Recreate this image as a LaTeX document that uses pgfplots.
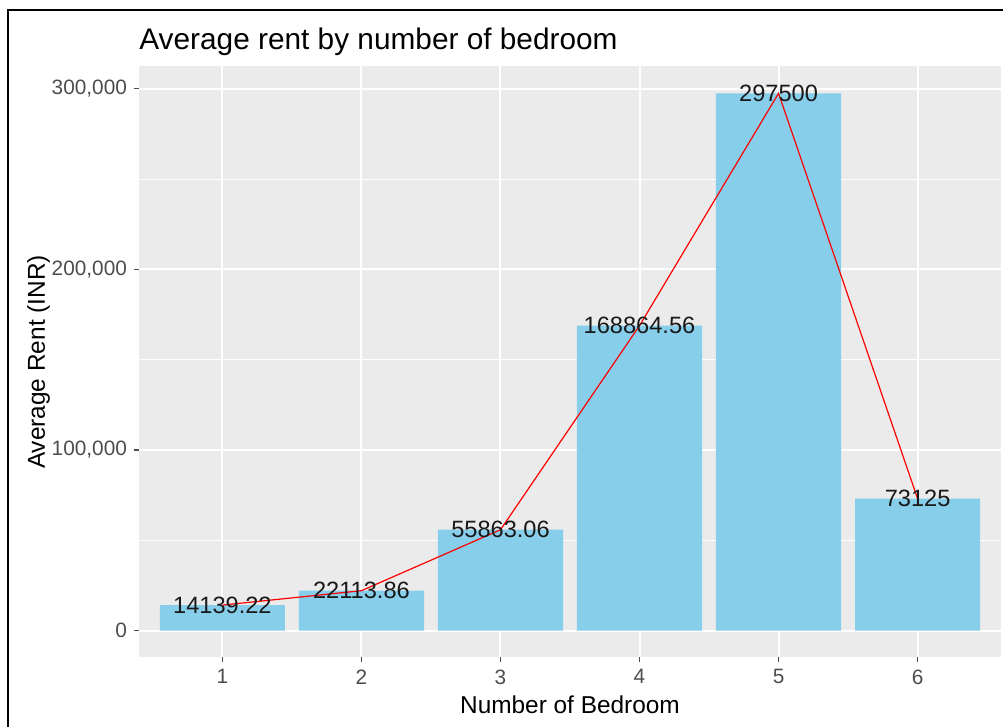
\documentclass[border=0pt]{standalone}
\usepackage{pgfplots}
\pgfplotsset{compat=1.18}
\usepackage{fontspec}
\setmainfont{Liberation Sans}
\definecolor{panel}{HTML}{EBEBEB}
\definecolor{barblue}{HTML}{87CEEB}
\definecolor{tickgray}{HTML}{4D4D4D}
\begin{document}
\begin{tikzpicture}
\fill[white] (-69.5pt,-34.75pt) rectangle (432pt,328.75pt);
\useasboundingbox (-69.5pt,-34.75pt) rectangle (432pt,328.75pt);
\draw[black, line width=1.2pt] (-65.5pt,-40pt) -- (-65.5pt,323.75pt) -- (440pt,323.75pt);
\begin{axis}[
  scale only axis, width=431pt, height=295.5pt,
  at={(0pt,0pt)}, anchor=south west,
  xmin=0.4, xmax=6.6, ymin=-14875, ymax=312375,
  axis background/.style={fill=panel},
  axis line style={draw=none},
  xtick={1,2,3,4,5,6},
  ytick={0,100000,200000,300000},
  minor ytick={50000,150000,250000},
  grid=both,
  major grid style={white, line width=1pt},
  minor grid style={white, line width=0.5pt},
  tick style={tickgray, line width=0.6pt},
  major tick length=2.5pt,
  minor tick length=0pt,
  tick align=outside, xtick pos=bottom, ytick pos=left,
  ticklabel style={font=\fontsize{10.4}{12}\selectfont, text=tickgray},
  scaled y ticks=false,
  yticklabel style={/pgf/number format/.cd, fixed, 1000 sep={,}, assume math mode=true},
  xticklabel style={/pgf/number format/assume math mode=true},
]
\addplot[ybar, bar width=0.9, bar shift=0pt, fill=barblue, draw=none] coordinates {
  (1,14139.22) (2,22113.86) (3,55863.06) (4,168864.56) (5,297500) (6,73125)
};
\addplot[red, line width=0.6pt, mark=none] coordinates {
  (1,14139.22) (2,22113.86) (3,55863.06) (4,168864.56) (5,297500) (6,73125)
};
\addplot[draw=none, mark=none, nodes near coords, point meta=explicit symbolic,
  nodes near coords style={anchor=center, font=\fontsize{11.8}{13}\selectfont, text=black!90, inner sep=0pt}]
  coordinates {
  (1,14139.22) [14139.22] (2,22113.86) [22113.86] (3,55863.06) [55863.06]
  (4,168864.56) [168864.56] (5,297500) [297500] (6,73125) [73125]
};
\end{axis}
\node[anchor=base west, inner sep=0pt, font=\fontsize{14.9}{17}\selectfont] at (0pt,303.75pt) {Average rent by number of bedroom};
\node[anchor=base, inner sep=0pt, font=\fontsize{12.2}{14}\selectfont] at (215.5pt,-28.25pt) {Number of Bedroom};
\node[anchor=base, inner sep=0pt, rotate=90, font=\fontsize{12.2}{14}\selectfont] at (-47pt,147.75pt) {Average Rent (INR)};
\end{tikzpicture}
\end{document}
